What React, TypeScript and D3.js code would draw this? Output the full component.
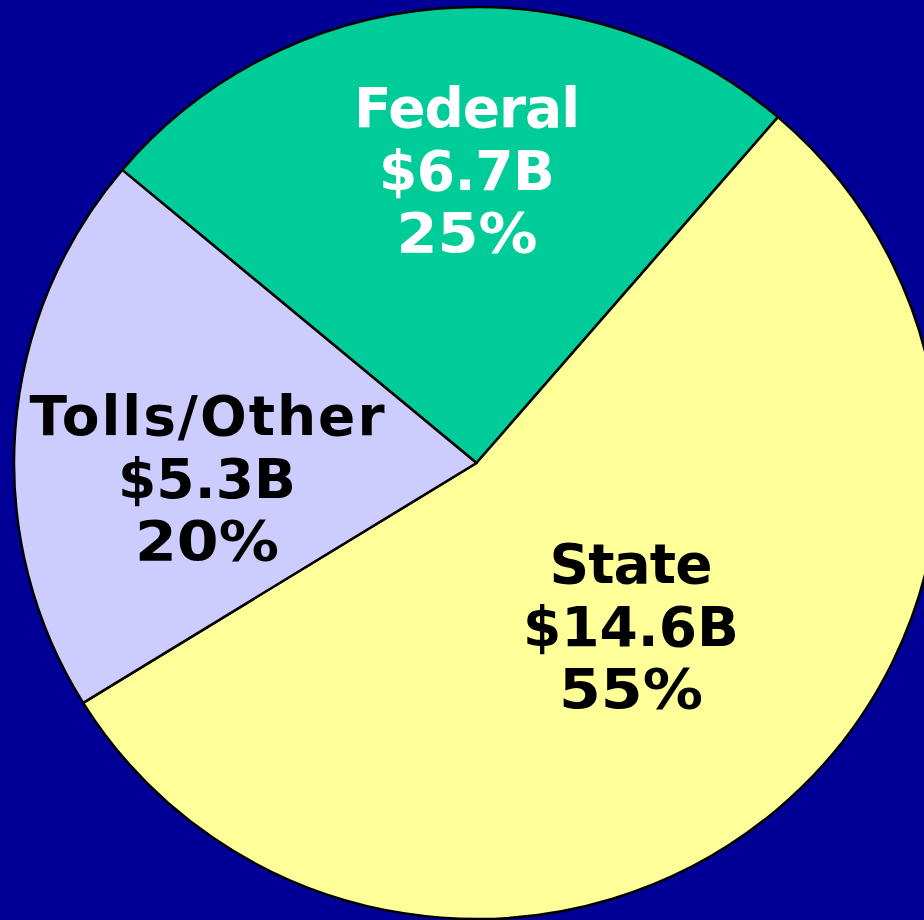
import React from "react";
import * as d3 from "d3";

const categories = ["Federal", "State", "Tolls/Other"];
const amounts = [6.7, 14.6, 5.3];
const amountLabels = ["$6.7B", "$14.6B", "$5.3B"];
const percentLabels = ["25%", "55%", "20%"];
const fills = ["#00CC99", "#FFFF99", "#CCCCFF"];
const textColors = ["#FFFFFF", "#000000", "#000000"];
// label anchor (center x, baseline of middle line)
const labelPos: [number, number][] = [
  [467, 190],
  [631, 646],
  [207, 498],
];
// rendered line widths (name, amount, percent) to mimic the original Verdana metrics
const lineWidths: [number, number, number][] = [
  [226, 176, 141],
  [163, 216, 144],
  [355, 178, 144],
];

const W = 924;
const H = 920;
const cx = 476.5;
const cy = 463;
const ry = 456;
const rx = 462.5;

export default function App() {
  const pie = d3
    .pie<number>()
    .sort(null)
    .value((d) => d)
    .startAngle((-50 * Math.PI) / 180)
    .endAngle((310 * Math.PI) / 180);
  const arcs = pie(amounts);
  const arc = d3.arc<d3.PieArcDatum<number>>().innerRadius(0).outerRadius(ry);

  return (
    <svg
      width={W}
      height={H}
      style={{ position: "absolute", left: 0, top: 0, display: "block" }}
    >
      <rect x={0} y={0} width={W} height={H} fill="#000096" />
      <g transform={`translate(${cx},${cy}) scale(${rx / ry},1)`}>
        {arcs.map((a, i) => (
          <path
            key={categories[i]}
            d={arc(a) || ""}
            fill={fills[i]}
            stroke="#000"
            strokeWidth={2.5}
            strokeLinejoin="round"
            vectorEffect="non-scaling-stroke"
          />
        ))}
      </g>
      {categories.map((c, i) => {
        const [x, y] = labelPos[i];
        const lines = [c, amountLabels[i], percentLabels[i]];
        const offs = [-63, 0, 62];
        return (
          <g key={c}>
            {lines.map((t, j) => (
              <text
                key={j}
                x={x - lineWidths[i][j] / 2}
                y={y + offs[j]}
                textLength={lineWidths[i][j]}
                lengthAdjust={j === 2 ? "spacingAndGlyphs" : "spacing"}
                fontFamily="'DejaVu Sans', Verdana, sans-serif"
                fontWeight="bold"
                fontSize={55}
                fill={textColors[i]}
              >
                {t}
              </text>
            ))}
          </g>
        );
      })}
    </svg>
  );
}
